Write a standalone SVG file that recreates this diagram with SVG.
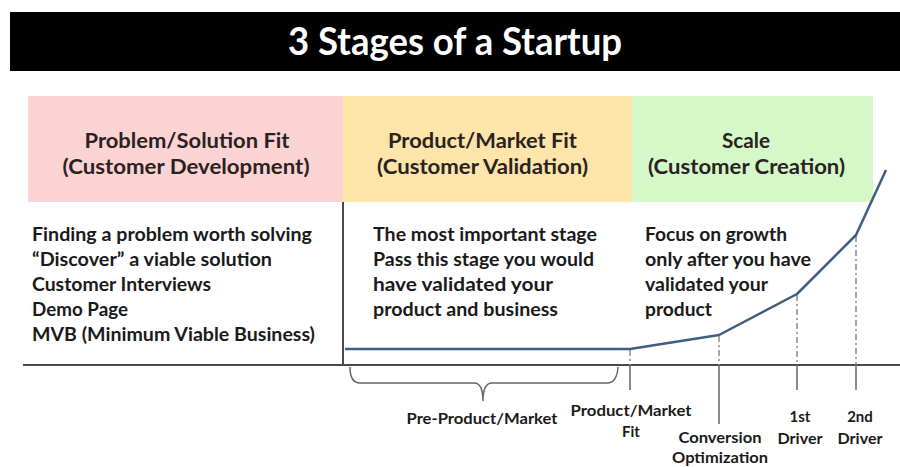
<svg xmlns="http://www.w3.org/2000/svg" width="900" height="467" viewBox="0 0 900 467">
<style>
text{font-family:Lato,"Open Sans","Liberation Sans",sans-serif;font-weight:bold;fill:#1a1a1a}
.title{fill:#fff;font-size:38px}
.head{font-size:20px;text-anchor:middle;fill:#2a2222}
.body{font-size:18px}
.lbl{font-size:15px;text-anchor:middle}
.axis{stroke:#4a4a4a;stroke-width:2;fill:none}
.curve{stroke:#3f5d7e;stroke-width:2.5;fill:none;stroke-linejoin:round}
.guide{stroke:#8a8a8a;stroke-width:1.5;stroke-dasharray:6 3 2 3;fill:none}
.tick{stroke:#666;stroke-width:1.5;fill:none}
</style>
<rect width="900" height="467" fill="#fff"/>
<g id="title">
<rect x="10" y="12" width="890" height="59" fill="#000"/>
<text class="title" x="455" y="55" text-anchor="middle" textLength="334" lengthAdjust="spacingAndGlyphs">3 Stages of a Startup</text>
</g>
<g id="stage1">
<rect x="28" y="96" width="315" height="106" fill="#fcd3d3"/>
<text class="head" x="187" y="148" textLength="205" lengthAdjust="spacingAndGlyphs">Problem/Solution Fit</text>
<text class="head" x="186" y="174" textLength="247" lengthAdjust="spacingAndGlyphs">(Customer Development)</text>
<text class="body" x="32" y="241" textLength="280" lengthAdjust="spacingAndGlyphs">Finding a problem worth solving</text>
<text class="body" x="32" y="266" textLength="240" lengthAdjust="spacingAndGlyphs">“Discover” a viable solution</text>
<text class="body" x="32" y="291" textLength="179" lengthAdjust="spacingAndGlyphs">Customer Interviews</text>
<text class="body" x="32" y="316" textLength="96" lengthAdjust="spacingAndGlyphs">Demo Page</text>
<text class="body" x="32" y="341" textLength="283" lengthAdjust="spacingAndGlyphs">MVB (Minimum Viable Business)</text>
</g>
<g id="stage2">
<rect x="343" y="96" width="289" height="106" fill="#fde4a8"/>
<text class="head" x="482.5" y="148" textLength="189" lengthAdjust="spacingAndGlyphs">Product/Market Fit</text>
<text class="head" x="482.5" y="174" textLength="211" lengthAdjust="spacingAndGlyphs">(Customer Validation)</text>
<text class="body" x="373" y="241" textLength="224" lengthAdjust="spacingAndGlyphs">The most important stage</text>
<text class="body" x="373" y="266" textLength="221" lengthAdjust="spacingAndGlyphs">Pass this stage you would</text>
<text class="body" x="373" y="291" textLength="180" lengthAdjust="spacingAndGlyphs">have validated your</text>
<text class="body" x="373" y="316" textLength="185" lengthAdjust="spacingAndGlyphs">product and business</text>
</g>
<g id="stage3">
<rect x="632" y="96" width="241" height="106" fill="#d4f8c8"/>
<text class="head" x="746" y="148" textLength="48" lengthAdjust="spacingAndGlyphs">Scale</text>
<text class="head" x="746.5" y="174" textLength="197" lengthAdjust="spacingAndGlyphs">(Customer Creation)</text>
<text class="body" x="645" y="241" textLength="142" lengthAdjust="spacingAndGlyphs">Focus on growth</text>
<text class="body" x="645" y="266" textLength="166" lengthAdjust="spacingAndGlyphs">only after you have</text>
<text class="body" x="645" y="291" textLength="123" lengthAdjust="spacingAndGlyphs">validated your</text>
<text class="body" x="645" y="316" textLength="67" lengthAdjust="spacingAndGlyphs">product</text>
</g>
<g id="connectors">
<line class="axis" x1="343" y1="202" x2="343" y2="365"/>
<line class="axis" x1="23" y1="365" x2="900" y2="365"/>
<line class="guide" x1="630" y1="350" x2="630" y2="365"/>
<line class="guide" x1="719" y1="336" x2="719" y2="365"/>
<line class="guide" x1="797" y1="295" x2="797" y2="365"/>
<line class="guide" x1="856" y1="236" x2="856" y2="365"/>
<line class="tick" x1="630" y1="365" x2="630" y2="390"/>
<line class="tick" x1="719" y1="365" x2="719" y2="424"/>
<line class="tick" x1="797" y1="365" x2="797" y2="390"/>
<line class="tick" x1="856" y1="365" x2="856" y2="390"/>
<path class="curve" d="M345,349 L630,349 L719,335 L797,294 L856,235 L886,170"/>
<path class="tick" d="M350,367 Q350,383 360,383 L474,383 Q483,383 483,401 Q483,383 492,383 L607,383 Q617,383 618,367"/>
</g>
<g id="labels">
<text class="lbl" x="482" y="424" textLength="151" lengthAdjust="spacingAndGlyphs">Pre-Product/Market</text>
<text class="lbl" x="631" y="416" textLength="121" lengthAdjust="spacingAndGlyphs">Product/Market</text>
<text class="lbl" x="631" y="437">Fit</text>
<text class="lbl" x="720" y="443" textLength="83" lengthAdjust="spacingAndGlyphs">Conversion</text>
<text class="lbl" x="720" y="463" textLength="96" lengthAdjust="spacingAndGlyphs">Optimization</text>
<text class="lbl" x="800" y="422">1st</text>
<text class="lbl" x="800" y="444" textLength="45" lengthAdjust="spacingAndGlyphs">Driver</text>
<text class="lbl" x="860" y="422">2nd</text>
<text class="lbl" x="860" y="444" textLength="45" lengthAdjust="spacingAndGlyphs">Driver</text>
</g>
</svg>
